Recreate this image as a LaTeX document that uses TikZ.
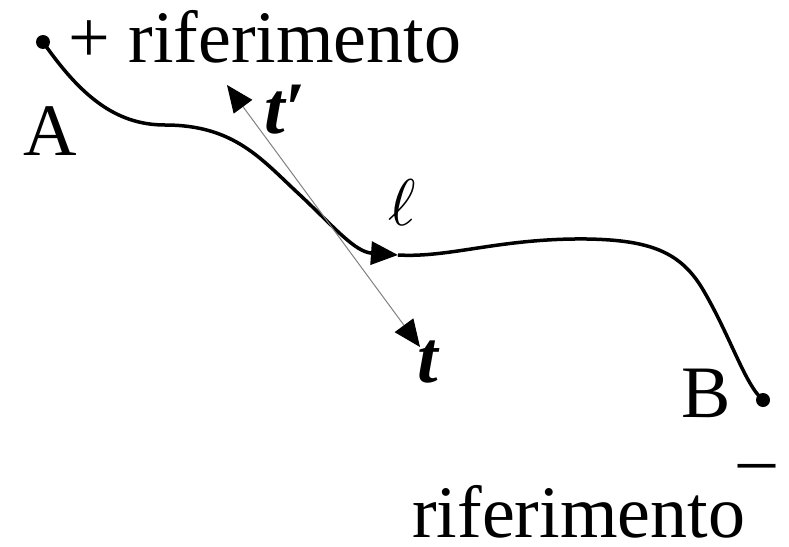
\documentclass[tikz,border=0pt]{standalone}
\usepackage{amsmath,amssymb}
\usepackage{graphicx}
\usepackage{fontspec}
\setmainfont{Liberation Serif}
\usepackage{tikz}
\usetikzlibrary{arrows.meta}
\tikzset{
  punto/.style={circle,fill=black,inner sep=0pt,minimum size=14pt},
  testo/.style={font=\fontsize{74}{80}\selectfont,inner sep=0pt},
  punta/.style={-{Triangle[length=27pt,width=23pt,black]}},
  tangente/.style={gray,line width=1pt,{Triangle[length=27pt,width=23pt,black]}-{Triangle[length=27pt,width=23pt,black]}}
}

\begin{document}
\begin{tikzpicture}[x=1pt,y=-1pt]
\useasboundingbox (0,0) rectangle (789,546);
\node[punto] (pA) at (43,42) {};
\node[punto] (pB) at (763,400) {};
\coordinate (m) at (398,255);
\coordinate (tsu) at (227,85);
\coordinate (tgiu) at (420,347);
% linea l
\draw[line width=3.5pt,punta] (pA.center) .. controls (80,95) and (115,125) .. (165,125)
  .. controls (235,125) and (262,160) .. (300,195)
  .. controls (335,228) and (355,252) .. (m);
\draw[line width=3.5pt] (m) .. controls (450,258) and (500,238) .. (587,239)
  .. controls (650,240) and (680,252) .. (702,288)
  .. controls (730,335) and (745,385) .. (pB.center);
% versori tangenti
\draw[tangente] (tsu) -- (tgiu);
\node[testo,anchor=base west] (piu) at (68,62) {+ riferimento};
\node[testo,anchor=base] (A) at (50,155) {A};
\node[testo,anchor=base west] (tp) at (264,133) {\textbf{\textit{t\char"2032}}};
\node[inner sep=0pt] (ell) at (402,203) {\scalebox{6.6}{$\ell$}};
\node[testo,anchor=base west] (t) at (417,382) {\textbf{\textit{t}}};
\node[testo,anchor=base] (B) at (706,417) {B};
\node[testo,anchor=base] (meno) at (757,483) {–};
\node[testo,anchor=base west] (rif) at (412,537) {riferimento};
\end{tikzpicture}
\end{document}
